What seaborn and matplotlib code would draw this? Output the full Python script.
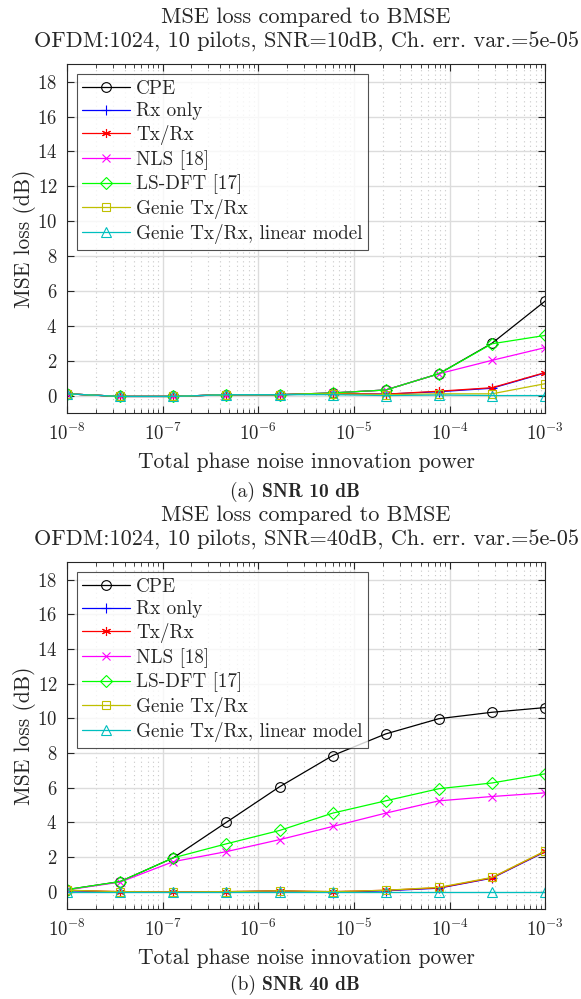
import numpy as np
import pandas as pd
import matplotlib
matplotlib.use('Agg')
from matplotlib import pyplot as plt
import seaborn as sns

# phase noise innovation power (x axis)
pn_power = [1e-8, 3.59e-8, 1.29e-7, 4.64e-7, 1.67e-6, 5.99e-6, 2.15e-5, 7.74e-5, 2.78e-4, 1e-3]

names = ['CPE', 'Rx only', 'Tx/Rx', 'NLS [18]', 'LS-DFT [17]', 'Genie Tx/Rx', 'Genie Tx/Rx, linear model']

# SNR 10 dB
cpe_10 = [0.1, -0.05, -0.05, 0.05, 0.05, 0.15, 0.32, 1.25, 3.0, 5.42]
rx_10 = [0.1, -0.05, -0.05, 0.05, 0.05, 0.1, 0.08, 0.22, 0.42, 1.3]
txrx_10 = [0.1, -0.05, -0.05, 0.05, 0.05, 0.12, 0.08, 0.25, 0.45, 1.32]
nls_10 = [0.1, -0.05, -0.05, 0.05, 0.05, 0.15, 0.32, 1.25, 2.02, 2.75]
lsdft_10 = [0.1, -0.05, -0.05, 0.05, 0.05, 0.15, 0.32, 1.25, 2.97, 3.45]
genie_10 = [0.1, -0.05, -0.05, 0.05, 0.05, 0.1, 0.05, 0.1, 0.1, 0.68]
genlin_10 = [0.1, -0.05, -0.05, 0.05, 0.05, 0.05, 0.0, 0.03, 0.0, 0.0]

# SNR 40 dB
cpe_40 = [0.12, 0.58, 1.95, 4.0, 6.05, 7.85, 9.1, 9.98, 10.35, 10.62]
rx_40 = [0.05, -0.02, -0.03, -0.02, 0.05, -0.05, 0.05, 0.2, 0.78, 2.3]
txrx_40 = [0.08, 0.0, -0.02, 0.0, 0.05, 0.0, 0.08, 0.22, 0.8, 2.33]
nls_40 = [0.1, 0.55, 1.73, 2.31, 3.0, 3.76, 4.53, 5.24, 5.49, 5.7]
lsdft_40 = [0.12, 0.58, 1.95, 2.76, 3.53, 4.53, 5.24, 5.94, 6.27, 6.8]
genie_40 = [0.08, 0.0, -0.02, 0.0, 0.05, 0.0, 0.08, 0.25, 0.82, 2.35]
genlin_40 = [0.0, 0.0, 0.0, 0.0, 0.0, 0.0, 0.0, 0.0, 0.0, 0.0]

yticks = [0, 2, 4, 6, 8, 10, 12, 14, 16, 18]

colors = ['black', '#0000ff', '#ff0000', '#ff00ff', '#00ff00', '#bfbf00', '#00bfbf']
markers = ['o', '+', (6, 2, 0), 'x', 'D', 's', '^']
msizes = [7, 7, 6.5, 5.5, 6.5, 6, 7.5]

sns.set_style('ticks')
plt.rcParams['font.family'] = ['cmr10', 'DejaVu Serif']
plt.rcParams['mathtext.fontset'] = 'cm'
plt.rcParams['axes.formatter.use_mathtext'] = True
plt.rcParams['axes.unicode_minus'] = False


def draw_panel(ax, series, snr):
    for name, vals, c, m, ms in zip(names, series, colors, markers, msizes):
        df = pd.DataFrame({'x': pn_power, 'y': vals})
        sns.lineplot(data=df, x='x', y='y', ax=ax, color=c, marker=m, markersize=ms,
                     markerfacecolor='none', markeredgecolor=c, markeredgewidth=0.8,
                     linewidth=0.9, label=name)
    ax.set_xscale('log')
    ax.set_xlim(1e-8, 1e-3)
    ax.set_ylim(-1, 19)
    ax.set_yticks(yticks)
    ax.set_xticks([1e-8, 1e-7, 1e-6, 1e-5, 1e-4, 1e-3])
    ax.grid(True, which='major', color='#dcdcdc', linewidth=1.0)
    ax.grid(True, which='minor', axis='x', color='#c8c8c8', linestyle=(0, (1, 3)), linewidth=0.8)
    ax.set_axisbelow(True)
    ax.tick_params(which='both', direction='in', top=True, right=True, labelsize=13.5)
    ax.tick_params(which='major', length=5, pad=7)
    ax.tick_params(which='minor', length=3)
    for s in ax.spines.values():
        s.set_color('#262626')
        s.set_linewidth(0.8)
    ax.set_xlabel('Total phase noise innovation power', fontsize=15.5, labelpad=6)
    ax.set_ylabel('MSE loss (dB)', fontsize=15.5, labelpad=1)
    ax.set_title('MSE loss compared to BMSE\nOFDM:1024, 10 pilots, SNR=%ddB, Ch. err. var.=5e-05' % snr,
                 fontsize=16, pad=12, linespacing=1.32)
    leg = ax.legend(loc='upper left', fontsize=13.8, handlelength=2.5, frameon=True, fancybox=False,
                    borderpad=0.3, labelspacing=0.25, handletextpad=0.3, borderaxespad=0.5)
    leg.get_frame().set_edgecolor('#262626')
    leg.get_frame().set_linewidth(0.8)


fig = plt.figure(figsize=(5.81, 9.99), dpi=100)
ax1 = fig.add_axes([0.1153, 0.5866, 0.823, 0.349])
ax2 = fig.add_axes([0.1153, 0.0901, 0.823, 0.347])

draw_panel(ax1, [cpe_10, rx_10, txrx_10, nls_10, lsdft_10, genie_10, genlin_10], 10)
draw_panel(ax2, [cpe_40, rx_40, txrx_40, nls_40, lsdft_40, genie_40, genlin_40], 40)

# captions: "(a)" regular, rest bold
for tag, snr, ypix in [('(a)', 10, 492), ('(b)', 40, 985)]:
    fig.text(262 / 581, 1 - ypix / 999, tag + ' ', ha='right', va='center', fontsize=14)
    fig.text(262 / 581, 1 - ypix / 999, 'SNR %d dB' % snr, ha='left', va='center', fontsize=14,
             family='cmb10')

fig.savefig('out.png', dpi=100)
